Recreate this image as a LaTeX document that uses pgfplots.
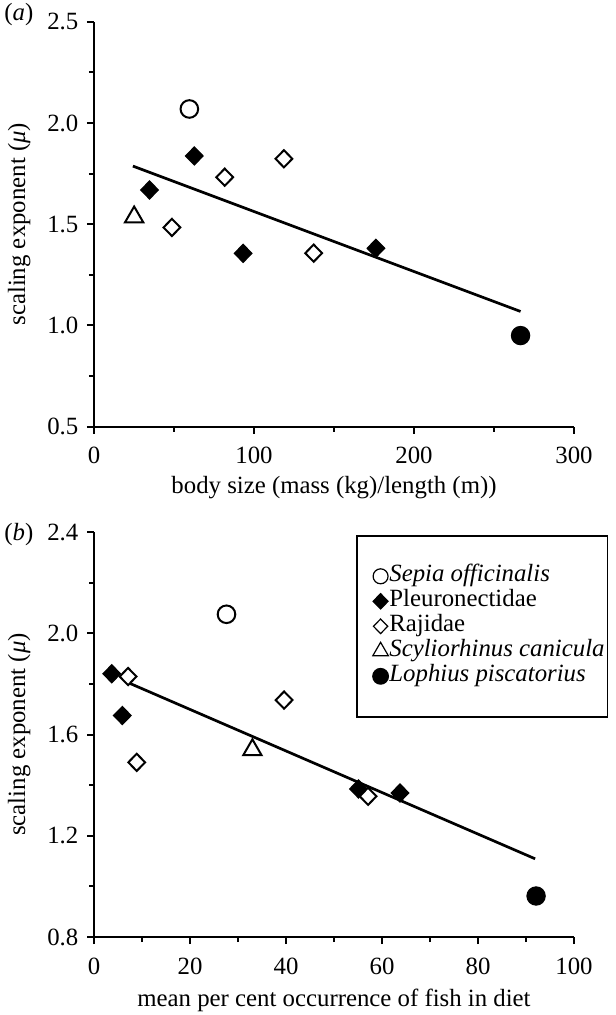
\documentclass[border=0pt]{standalone}
\usepackage{fontspec}
\setmainfont{Liberation Serif}
\usepackage{pgfplots}
\pgfplotsset{compat=1.18}
\pgfplotsset{
  myaxis/.style={
    scale only axis, width=240pt, height=202.5pt,
    axis x line*=bottom, axis y line*=left,
    axis line style={line width=1pt, black},
    tick align=outside, tick style={black, line width=1pt},
    major tick length=3.5pt, minor tick length=2.5pt,
    minor x tick num=1, minor y tick num=1,
    /pgf/number format/assume math mode=true,
    yticklabel style={/pgf/number format/.cd, fixed, fixed zerofill, precision=1},
    xticklabel style={yshift=-2.5pt},
    clip=false,
    font=\fontsize{12.4}{14.5}\selectfont,
    ylabel style={at={(axis description cs:-0.156,0.5)}, anchor=center},
  },
  sepia/.style={only marks, mark=*, mark size=4.4pt, mark options={fill=white, draw=black, line width=1pt}},
  pleur/.style={only marks, mark=diamond*, mark size=4.5pt, mark options={xscale=1.3, fill=black, draw=black, line width=0.6pt}},
  raj/.style={only marks, mark=diamond*, mark size=4.3pt, mark options={xscale=1.3, fill=white, draw=black, line width=1pt}},
  scyl/.style={only marks, mark=triangle*, mark size=5.3pt, mark options={fill=white, draw=black, line width=1pt}},
  loph/.style={only marks, mark=*, mark size=4.6pt, mark options={fill=black, draw=black, line width=0.5pt}},
  fit/.style={no marks, black, line width=1.35pt},
}
\begin{document}
\fontsize{12.4}{14.5}\selectfont
\begin{tikzpicture}[x=1pt,y=1pt]
\useasboundingbox (0,0) rectangle (307.5,-507.5);
\node[anchor=west, inner sep=0pt] at (2,-7.5) {(\textit{a})};
\node[anchor=west, inner sep=0pt] at (2,-267.5) {(\textit{b})};

\begin{axis}[myaxis, at={(47pt,-213.35pt)}, anchor=south west,
  xmin=0, xmax=300, ymin=0.5, ymax=2.5,
  xtick={0,100,200,300}, ytick={0.5,1.0,1.5,2.0,2.5},
  xlabel={body size (mass (kg)/length (m))},
  xlabel style={at={(axis description cs:0.5,-0.151)}, anchor=center},
  ylabel={scaling exponent (\textit{μ})},
]
\addplot[fit] coordinates {(24.3,1.787) (266.6,1.069)};
\addplot[sepia] coordinates {(59.6,2.069)};
\addplot[pleur] coordinates {(62.7,1.837) (34.7,1.669) (93.2,1.356) (176.2,1.381)};
\addplot[raj] coordinates {(118.7,1.823) (81.7,1.732) (48.7,1.484) (137.3,1.357)};
\addplot[scyl] coordinates {(25.1,1.535)};
\addplot[loph] coordinates {(266.6,0.950)};
\end{axis}

\begin{axis}[myaxis, at={(47pt,-468.5pt)}, anchor=south west,
  xmin=0, xmax=100, ymin=0.8, ymax=2.4,
  xtick={0,20,40,60,80,100}, ytick={0.8,1.2,1.6,2.0,2.4},
  xlabel={mean per cent occurrence of fish in diet},
  xlabel style={at={(axis description cs:0.5,-0.156)}, anchor=center},
  ylabel={scaling exponent (\textit{μ})},
  legend cell align=left,
  legend image code/.code={\path (0pt,0pt); \draw[#1, every mark/.append style={scale=0.85, line width=0.6pt}] plot coordinates {(10.5pt,0pt)};},
  legend style={at={(axis description cs:0.5458,0.9926)}, anchor=north west,
    draw=black, line width=0.8pt, inner xsep=1pt, inner ysep=14pt, row sep=0pt,
    nodes={inner sep=0.5pt, text height=8.5pt, text depth=3pt},
    font=\fontsize{12.4}{14.5}\selectfont},
]
\addplot[fit, forget plot] coordinates {(7.1,1.805) (91.9,1.109)};
\addplot[sepia] coordinates {(27.6,2.075)};
\addlegendentry{\textit{Sepia officinalis}}
\addplot[pleur] coordinates {(3.7,1.840) (5.9,1.675) (55.1,1.385) (63.75,1.369)};
\addlegendentry{Pleuronectidae}
\addplot[raj] coordinates {(7.1,1.829) (8.9,1.490) (39.6,1.736) (57.1,1.356)};
\addlegendentry{Rajidae}
\addplot[scyl] coordinates {(33.0,1.539)};
\addlegendentry{\textit{Scyliorhinus canicula}}
\addplot[loph] coordinates {(92.1,0.962)};
\addlegendentry{\textit{Lophius piscatorius}}
\end{axis}
\end{tikzpicture}
\end{document}
